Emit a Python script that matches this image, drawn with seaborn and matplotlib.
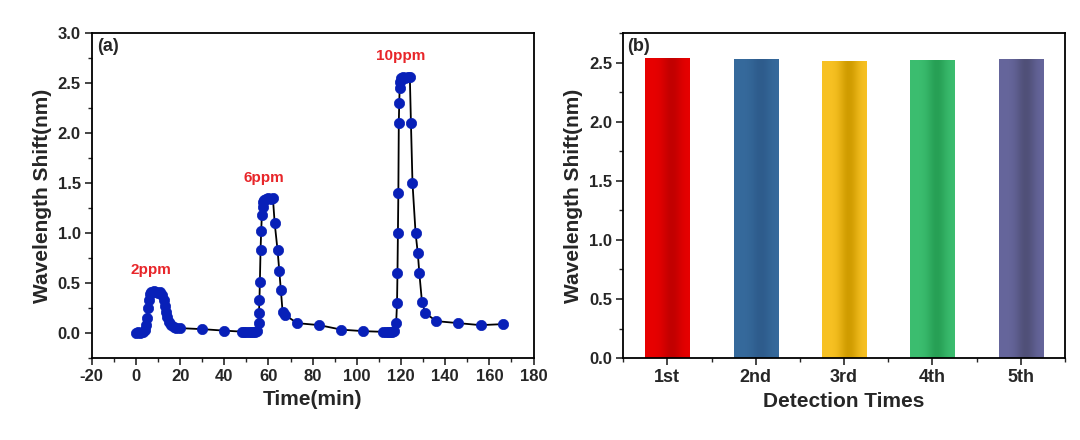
import numpy as np
import pandas as pd
import matplotlib
matplotlib.use("Agg")
import matplotlib.pyplot as plt
from matplotlib.ticker import MultipleLocator
from matplotlib.colors import to_rgb
import seaborn as sns

# (a) wavelength shift vs time, three exposures (2, 6, 10 ppm)
time_min = [
    0, 1, 2, 3, 4, 4.5, 5, 5.5, 6, 6.5, 7, 8, 9, 10, 11, 12, 12.5, 13, 13.5, 14,
    15, 16, 17, 18, 20, 30, 40, 48, 49, 50, 51, 52, 53, 54, 55,
    55.5, 55.7, 55.9, 56.1, 56.4, 56.7, 57, 57.3, 57.6, 58, 59, 60, 61, 62,
    62.8, 64.1, 64.9, 65.6, 66.4, 67.6, 73, 83, 93, 103,
    112, 113, 114, 115, 116, 117, 117.8,
    118.2, 118.4, 118.6, 118.8, 119.0, 119.2, 119.4, 119.6, 120, 121, 122, 123, 124,
    124.5, 125.2, 126.6, 127.6, 128.3, 129.5, 131, 136, 146, 156, 166,
]
shift_nm = [
    0.00, 0.01, 0.00, 0.01, 0.03, 0.08, 0.15, 0.25, 0.33, 0.39, 0.41, 0.42, 0.41, 0.40, 0.41, 0.38, 0.33, 0.27, 0.21, 0.16,
    0.11, 0.08, 0.06, 0.05, 0.05, 0.04, 0.025, 0.015, 0.01, 0.01, 0.015, 0.01, 0.01, 0.015, 0.02,
    0.10, 0.20, 0.33, 0.51, 0.83, 1.02, 1.18, 1.26, 1.31, 1.33, 1.34, 1.35, 1.34, 1.35,
    1.10, 0.83, 0.62, 0.43, 0.21, 0.18, 0.10, 0.08, 0.035, 0.02,
    0.013, 0.01, 0.015, 0.01, 0.01, 0.02, 0.10,
    0.30, 0.60, 1.00, 1.40, 2.10, 2.30, 2.45, 2.51, 2.55, 2.56, 2.55, 2.56, 2.56,
    2.10, 1.50, 1.00, 0.80, 0.60, 0.31, 0.20, 0.12, 0.10, 0.08, 0.09,
]
peak_labels = ["2ppm", "6ppm", "10ppm"]
peak_label_x = [7, 58, 120]
peak_label_y = [0.63, 1.55, 2.77]

# (b) repeated detections at 10 ppm
detections = ["1st", "2nd", "3rd", "4th", "5th"]
repeat_shift = [2.54, 2.53, 2.51, 2.52, 2.53]
bar_edge_colors = ["#e80000", "#366a9c", "#f8c224", "#3cbe70", "#66669c"]
bar_mid_colors = ["#c20000", "#2e5c8c", "#d09c00", "#27a055", "#505078"]

sns.set_style("ticks")
plt.rcParams["font.family"] = ["Liberation Sans", "DejaVu Sans"]
plt.rcParams["font.weight"] = "bold"
plt.rcParams["axes.linewidth"] = 1.3
plt.rcParams["axes.unicode_minus"] = False

fig = plt.figure(figsize=(10.8, 4.4), dpi=100)
ax1 = fig.add_axes([0.085, 0.186, 0.409, 0.739])
ax2 = fig.add_axes([0.577, 0.186, 0.409, 0.739])

label_font = dict(fontsize=15, fontweight="bold")

# ---- panel (a)
df = pd.DataFrame({"t": time_min, "shift": shift_nm})
sns.lineplot(data=df, x="t", y="shift", ax=ax1, color="black", linewidth=1.3,
             estimator=None, sort=False, zorder=2)
sns.scatterplot(data=df, x="t", y="shift", ax=ax1, color="#0820b8", s=55,
                edgecolor="#0820b8", linewidth=0.5, zorder=3)
for name, lx, ly in zip(peak_labels, peak_label_x, peak_label_y):
    ax1.text(lx, ly, name, color="#e8262a", ha="center", va="center",
             fontsize=11, fontweight="bold")

ax1.set_xlim(-20, 180)
ax1.set_ylim(-0.25, 3.0)
ax1.xaxis.set_major_locator(MultipleLocator(20))
ax1.xaxis.set_minor_locator(MultipleLocator(10))
ax1.yaxis.set_major_locator(MultipleLocator(0.5))
ax1.yaxis.set_minor_locator(MultipleLocator(0.25))
ax1.yaxis.set_major_formatter(plt.FormatStrFormatter("%.1f"))
ax1.set_xlabel("Time(min)", **label_font)
ax1.set_ylabel("Wavelength Shift(nm)", **label_font)
ax1.text(0.012, 0.985, "(a)", transform=ax1.transAxes, ha="left", va="top",
         fontsize=13, fontweight="bold")

# ---- panel (b)
sns.barplot(x=detections, y=repeat_shift, hue=detections, palette=bar_edge_colors,
            legend=False, width=0.5, ax=ax2, saturation=1, zorder=2)

# cylinder-like shading on each bar
u = np.linspace(0, 1, 80)
f = np.exp(-((u - 0.6) / 0.22) ** 2)
for patch, c_edge, c_mid in zip(ax2.patches, bar_edge_colors, bar_mid_colors):
    e, m = np.array(to_rgb(c_edge)), np.array(to_rgb(c_mid))
    grad = (e[None, :] * (1 - f[:, None]) + m[None, :] * f[:, None])[None, :, :]
    x0, y0 = patch.get_x(), patch.get_y()
    w, h = patch.get_width(), patch.get_height()
    im = ax2.imshow(grad, extent=[x0, x0 + w, y0, y0 + h], aspect="auto",
                    interpolation="bicubic", zorder=2.5)
    im.set_clip_path(patch)

ax2.set_xlim(-0.5, 4.5)
ax2.set_ylim(0, 2.75)
ax2.set_xticks(range(len(detections)))
ax2.set_xticklabels(detections)
ax2.set_xticks(np.arange(-0.5, 4.6, 1.0), minor=True)
ax2.yaxis.set_major_locator(MultipleLocator(0.5))
ax2.yaxis.set_minor_locator(MultipleLocator(0.25))
ax2.yaxis.set_major_formatter(plt.FormatStrFormatter("%.1f"))
ax2.set_xlabel("Detection Times", **label_font)
ax2.set_ylabel("Wavelength Shift(nm)", **label_font)
ax2.text(0.008, 0.985, "(b)", transform=ax2.transAxes, ha="left", va="top",
         fontsize=13, fontweight="bold")

for ax in (ax1, ax2):
    for sp in ax.spines.values():
        sp.set_visible(True)
        sp.set_color("black")
        sp.set_linewidth(1.3)
    ax.tick_params(which="major", direction="out", length=5, width=1.2,
                   top=False, right=False, labelsize=12, pad=3)
    ax.tick_params(which="minor", direction="out", length=3, width=1.0,
                   top=False, right=False)
    for lab in ax.get_xticklabels() + ax.get_yticklabels():
        lab.set_fontweight("bold")
ax2.tick_params(axis="x", which="major", labelsize=13)

fig.savefig("out.png", dpi=100)
